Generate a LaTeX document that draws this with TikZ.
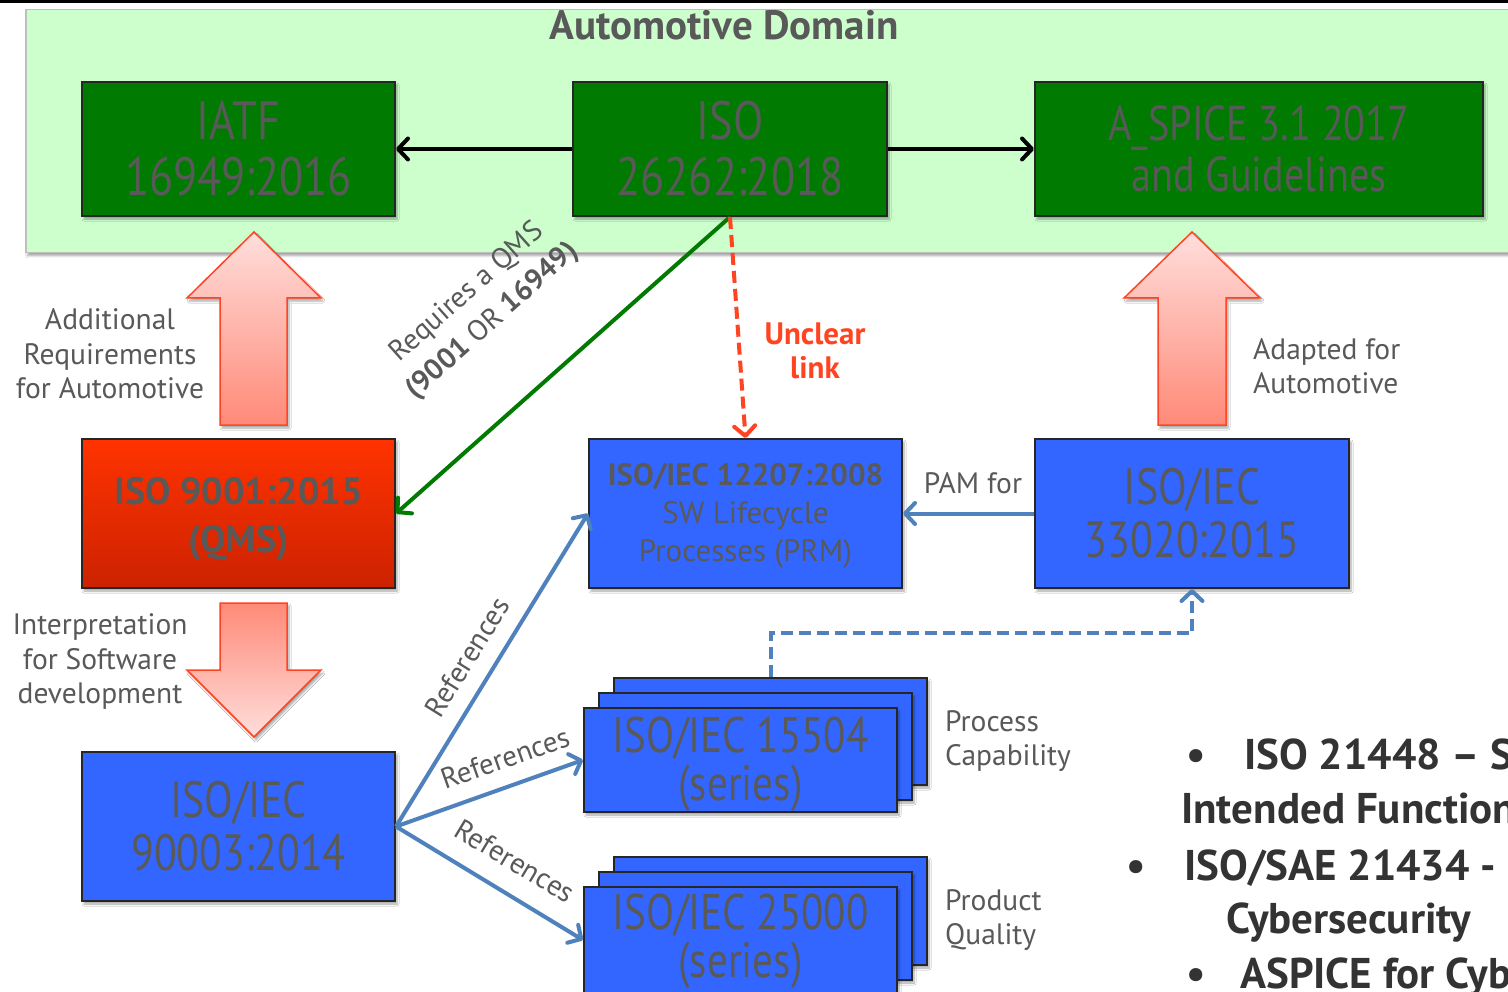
\documentclass[tikz,border=0pt]{standalone}
\usepackage{fontspec}
\setmainfont{PT Sans}
\newfontfamily\cond[FakeStretch=0.82]{PT Sans}
\usetikzlibrary{arrows.meta,shadows.blur}
\definecolor{domainbg}{HTML}{CCFFCC}
\definecolor{darkgreen}{RGB}{0,122,0}
\definecolor{boxtext}{HTML}{595959}
\definecolor{boxblue}{HTML}{3366FF}
\definecolor{redtop}{HTML}{FF3300}
\definecolor{redbot}{HTML}{CC2200}
\definecolor{arrowlight}{HTML}{FFDEDC}
\definecolor{arrowdark}{HTML}{FF8A78}
\definecolor{arrowedge}{HTML}{FF4422}
\definecolor{steel}{HTML}{4F81BD}
\definecolor{bullettext}{HTML}{333333}
\tikzset{
  shad/.style={blur shadow={shadow xshift=2pt,shadow yshift=-3pt,shadow blur steps=6,shadow opacity=35}},
  gbox/.style={shad,draw=black!85,line width=2pt,fill=darkgreen,inner sep=0pt,text=boxtext,align=center,
     font=\cond\fontsize{54}{56}\selectfont},
  bbox/.style={shad,draw=black!85,line width=2pt,fill=boxblue,inner sep=0pt,text=boxtext,align=center,
     font=\cond\fontsize{51}{53}\selectfont},
  boxtxt/.style={text=boxtext,align=center,inner sep=0pt},
  lbl/.style={text=boxtext,align=center,inner sep=0pt,font=\fontsize{29.5}{34.5}\selectfont},
  rlbl/.style={text=boxtext,inner sep=0pt,font=\fontsize{29}{38}\selectfont},
  barrow/.style={draw=arrowedge,line width=1.5pt,shad},
  bul/.style={text=bullettext,anchor=base west,inner sep=0pt,font=\bfseries\fontsize{43}{50}\selectfont},
  tipb/.style={-{Straight Barb[length=10pt,width=21pt,line width=4pt,round]}},
}
\begin{document}
\begin{tikzpicture}[x=1pt,y=-1pt]
\useasboundingbox (0,0) rectangle (1508,992);
\clip (0,0) rectangle (1508,992);
\fill[white] (0,0) rectangle (1508,992);
\draw[black,line width=3pt] (0,1.5) -- (1508,1.5);
% domain region
\node[shad,draw=black!25,line width=1.5pt,fill=domainbg,minimum width=1500,minimum height=243,inner sep=0pt,anchor=north west] (domain) at (25,9) {};
\node[text=boxtext,font=\bfseries\fontsize{41}{46}\selectfont,inner sep=0pt] (dtitle) at (724,25) {Automotive Domain};
% green boxes
\node[gbox,minimum width=313,minimum height=134] (iatf) at (238.5,149) {IATF\\16949:2016};
\node[gbox,minimum width=314,minimum height=134] (iso26) at (730,149) {ISO\\26262:2018};
\node[gbox,minimum width=448,minimum height=134,font=\cond\fontsize{49}{50.5}\selectfont] (aspice) at (1259,149) {A\_SPICE 3.1 2017\\and Guidelines};
\draw[black,line width=4.5pt,tipb] (iso26.west) -- (iatf.east);
\draw[black,line width=4.5pt,tipb] (iso26.east) -- (aspice.west);
% block arrows
\path[barrow,top color=arrowlight,bottom color=arrowdark]
  (254,232) -- (321,298) -- (287,298) -- (287,425) -- (220,425) -- (220,298) -- (187,298) -- cycle;
\path[barrow,top color=arrowlight,bottom color=arrowdark]
  (1192,232) -- (1260,298) -- (1226,298) -- (1226,425) -- (1158,425) -- (1158,298) -- (1124,298) -- cycle;
\path[barrow,top color=arrowdark,bottom color=arrowlight]
  (220,603) -- (287,603) -- (287,670) -- (321,670) -- (254,737) -- (187,670) -- (220,670) -- cycle;
% middle row
\node[shad,draw=black!85,line width=2pt,top color=redtop,bottom color=redbot,minimum width=313,minimum height=149,inner sep=0pt] (iso9001) at (238.5,513.5) {};
\node[boxtxt,font=\bfseries\fontsize{38}{48}\selectfont] (t9001) at (238.5,519.5) {ISO 9001:2015\\(QMS)};
\node[bbox,minimum width=313,minimum height=149] (iso12207) at (745.5,513.5) {};
\node[boxtxt,font=\fontsize{31}{38}\selectfont] (t12207) at (745.5,515.5)
  {{\bfseries ISO/IEC 12207:2008}\\SW Lifecycle\\Processes (PRM)};
\node[bbox,minimum width=314,minimum height=149] (iso33020) at (1192,513.5) {ISO/IEC\\33020:2015};
\node[bbox,minimum width=313,minimum height=149] (iso90003) at (238.5,826.5) {ISO/IEC\\90003:2014};
% stacks
\node[bbox,minimum width=313,minimum height=107] (p3) at (770.5,731.5) {};
\node[bbox,minimum width=313,minimum height=107] (p2) at (755.5,746.5) {};
\node[bbox,minimum width=313,minimum height=104] (p1) at (740.5,760) {};
\node[boxtxt,font=\cond\fontsize{50}{48}\selectfont] (tp1) at (740.5,764) {ISO/IEC 15504\\(series)};
\node[bbox,minimum width=313,minimum height=108] (q3) at (770.5,911) {};
\node[bbox,minimum width=313,minimum height=108] (q2) at (755.5,926) {};
\node[bbox,minimum width=313,minimum height=106] (q1) at (740.5,940) {};
\node[boxtxt,font=\cond\fontsize{50}{48}\selectfont] (tq1) at (740.5,941.5) {ISO/IEC 25000\\(series)};
% labels
\node[lbl] (addreq) at (110,354) {Additional\\Requirements\\for Automotive};
\node[lbl] (interp) at (100,662) {Interpretation\\for Software\\development};
\node[lbl,align=left,anchor=west] (adapted) at (1253,366) {Adapted for\\Automotive};
\node[lbl] (pamfor) at (973,483) {PAM for};
\node[lbl,align=left,anchor=west] (proccap) at (945,741) {Process\\Capability};
\node[lbl,align=left,anchor=west] (prodq) at (945,920) {Product\\Quality};
% connectors
\draw[darkgreen,line width=4pt,tipb] (iso26.south) -- (iso9001.east);
\node[rlbl,rotate=41.7,align=center] (reqqms) at (480,307) {Requires a QMS\\{\bfseries (9001} OR {\bfseries 16949)}};
\draw[arrowedge,line width=4pt,dash pattern=on 12pt off 6pt,tipb] (iso26.south) -- (iso12207.north);
\node[text=arrowedge,font=\bfseries\fontsize{31}{34}\selectfont,align=center,inner sep=0pt] (unclear) at (815,351) {Unclear\\link};
\draw[steel,line width=4pt,tipb] (iso33020.west) -- (iso12207.east);
\coordinate (dj) at (1192,633);
\draw[steel,line width=4pt,dash pattern=on 12pt off 6pt,tipb] (p3.north) |- (dj) -- (iso33020.south);
\draw[steel,line width=4pt,tipb] (iso90003.east) -- (iso12207.west);
\draw[steel,line width=4pt,tipb] (iso90003.east) -- (p1.west);
\draw[steel,line width=4pt,tipb] (iso90003.east) -- (q1.west);
\node[rlbl,rotate=58] (ref1) at (467,657) {References};
\node[rlbl,rotate=19.5] (ref2) at (505,758) {References};
\node[rlbl,rotate=-31] (ref3) at (515,861) {References};
% bullets
\node[bul] (b1) at (1186,769) {•};
\node[bul] (b1t) at (1244,769) {ISO 21448 – SOTIF};
\node[bul] (b1u) at (1181,823) {Intended Functionality};
\node[bul] (b2) at (1126,880) {•};
\node[bul] (b2t) at (1184,880) {ISO/SAE 21434 - Road};
\node[bul] (b2u) at (1226,933) {Cybersecurity};
\node[bul] (b3) at (1186,988) {•};
\node[bul] (b3t) at (1240,988) {ASPICE for Cybersecurity};
\end{tikzpicture}
\end{document}
